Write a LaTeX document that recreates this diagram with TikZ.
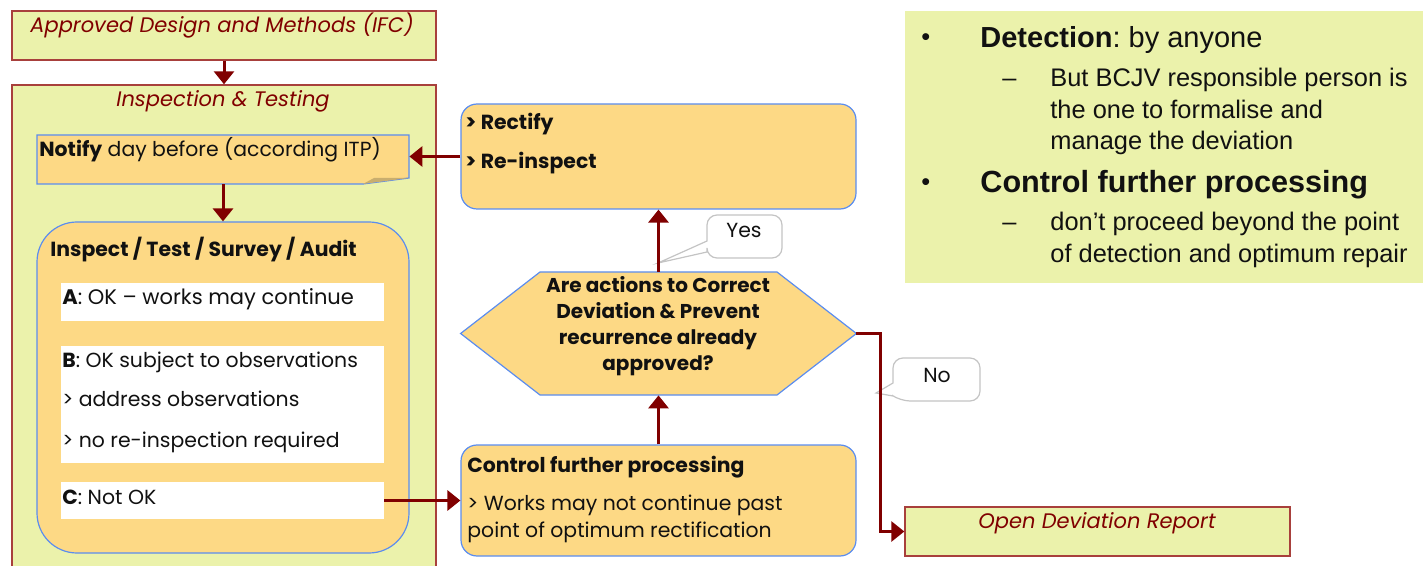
\documentclass[tikz,border=0pt]{standalone}
\usepackage{fontspec}
\setmainfont{Poppins}
\newfontfamily\arialfont{Liberation Sans}
\usetikzlibrary{arrows.meta,fit}
\frenchspacing

\definecolor{paleGreen}{HTML}{EBF2AB}
\definecolor{paleOrange}{HTML}{FDD985}
\definecolor{darkRed}{HTML}{800000}
\definecolor{boxRed}{HTML}{A8403C}
\definecolor{noteBlue}{HTML}{5B8DEF}
\definecolor{foldTan}{HTML}{C9AE6E}
\definecolor{calloutGrey}{HTML}{C4C4C4}
\definecolor{inkBlack}{HTML}{111111}

\tikzset{
  greenbox/.style={draw=boxRed, fill=paleGreen, line width=0.7pt, inner sep=0pt},
  orangebox/.style={draw=noteBlue, fill=paleOrange, line width=0.6pt, inner sep=0pt},
  whitebox/.style={fill=white, inner sep=0pt},
  ghostbox/.style={inner sep=0pt},
  flow/.style={draw=darkRed, line width=1.5pt, -{Triangle[width=10pt,length=6.5pt]}},
  redtitle/.style={text=darkRed, inner sep=0pt, anchor=base, font=\itshape\fontsize{10.5}{12}\selectfont},
  txt/.style={text=inkBlack, inner sep=0pt, anchor=base west, font=\fontsize{10.2}{12}\selectfont},
  boldtxt/.style={txt, font=\bfseries\fontsize{10.2}{12}\selectfont},
  hextxt/.style={text=inkBlack, inner sep=0pt, anchor=base, font=\bfseries\fontsize{10}{12}\selectfont},
  callout/.style={draw=calloutGrey, fill=white, line width=0.6pt},
  panel/.style={text=inkBlack, inner sep=0pt, anchor=base west, font=\arialfont\fontsize{12.7}{14}\selectfont},
  panelhead/.style={panel, font=\arialfont\fontsize{14.5}{16}\selectfont},
}

\begin{document}
\begin{tikzpicture}[x=0.5pt, y=-0.5pt]
\useasboundingbox (0,0) rectangle (1423,566);

%% left column
\node[greenbox, fit={(12,11) (436,60)}] (ifc) {};
\node[redtitle] (ifcText) at (222,33) {Approved Design and Methods (IFC)};

\node[greenbox, fit={(12,85) (436,572)}] (insp) {};
\node[redtitle] (inspText) at (223,107) {Inspection \& Testing};

%% note with folded corner
\node[ghostbox, fit={(37,135) (409,184)}] (notify) {};
\draw[orangebox] (37,135) -- (409,135) -- (409,178) -- (363,184) -- (37,184) -- cycle;
\fill[foldTan] (363,184) -- (374,178) -- (409,178) -- cycle;
\node[txt] (notifyText) at (39,157) {\textbf{Notify} day before (according ITP)};

\node[orangebox, rounded corners=20pt, fit={(37,222) (409,553)}] (audit) {};
\node[boldtxt, font=\bfseries\fontsize{10.2}{13}\selectfont] (auditText) at (50,257) {Inspect / Test / Survey / Audit};

\node[whitebox, fit={(61,283) (384,321)}] (aOK) {};
\node[whitebox, fit={(61,346) (384,463)}] (bOK) {};
\node[whitebox, fit={(61,482) (384,519)}] (cOK) {};
\node[txt, font=\fontsize{10.5}{12}\selectfont] (aText) at (62,305) {\textbf{A}: OK -- works may continue};
\node[txt] (bText) at (62,367) {\textbf{B}: OK subject to observations};
\node[txt] (bLineA) at (62,407) {> address observations};
\node[txt] (bLineB) at (62,447) {> no re-inspection required};
\node[txt] (cText) at (62,504) {\textbf{C}: Not OK};

%% middle column
\node[orangebox, rounded corners=8pt, fit={(461,104) (856,209)}] (rectify) {};
\node[boldtxt] (rectifyA) at (465,130) {> Rectify};
\node[boldtxt] (rectifyB) at (465,169) {> Re-inspect};

\node[ghostbox, fit={(461,272) (856,395)}] (hex) {};
\draw[orangebox] (hex.west) -- (540,272) -- (777,272) -- (hex.east) -- (777,395) -- (540,395) -- cycle;
\node[hextxt] (hexA) at (658,293) {Are actions to Correct};
\node[hextxt] (hexB) at (658,319) {Deviation \& Prevent};
\node[hextxt] (hexC) at (658,345) {recurrence already};
\node[hextxt] (hexD) at (658,371) {approved?};

\node[orangebox, rounded corners=8pt, fit={(461,445) (856,556)}] (control) {};
\node[boldtxt] (controlHead) at (467,472) {Control further processing};
\node[txt] (controlA) at (467,510) {> Works may not continue past};
\node[txt] (controlB) at (467,537) {point of optimum rectification};

%% callouts
\draw[callout] (707,241) [rounded corners=5pt] -- (707,215) -- (782,215) -- (782,258) -- (707,258) [sharp corners] -- (707,252) -- (658,263) -- cycle;
\node[txt, anchor=base] (yes) at (744,238) {Yes};
\draw[callout] (893,383) [rounded corners=5pt] -- (893,358) -- (980,358) -- (980,401) -- (900,401) [sharp corners] -- (893,396) -- (876,393) -- cycle;
\node[txt, anchor=base] (no) at (937,382) {No};

\node[greenbox, fit={(905,507) (1290,556)}] (odr) {};
\node[redtitle] (odrText) at (1097,528) {Open Deviation Report};

%% right panel
\node[ghostbox, fill=paleGreen, fit={(905,11) (1423,283)}] (notes) {};
\node[panel] (dotA) at (921,46) {•};
\node[panelhead] (detect) at (980,48) {\textbf{Detection}: by anyone};
\node[panel] (dashA) at (1002,87) {–};
\node[panel] (subA) at (1050,87) {But BCJV responsible person is};
\node[panel] (subB) at (1050,119) {the one to formalise and};
\node[panel] (subC) at (1050,150) {manage the deviation};
\node[panel] (dotB) at (921,191) {•};
\node[panelhead, font=\arialfont\fontsize{15.3}{16}\selectfont] (further) at (980,193) {\textbf{Control further processing}};
\node[panel] (dashB) at (1002,231) {–};
\node[panel] (subD) at (1050,231) {don’t proceed beyond the point};
\node[panel] (subE) at (1050,263) {of detection and optimum repair};

%% connectors
\draw[flow] (ifc.south) -- (insp.north);
\draw[flow] (notify.south) -- (audit.north);
\draw[flow] (rectify.west) -- (notify.east |- rectify.west);
\draw[flow] (cOK.east) -- (control.west);
\draw[flow] (control.north) -- (hex.south);
\draw[flow] (hex.north) -- (rectify.south);
\draw[flow] (hex.east) -| ([xshift=-12pt]odr.west) -- (odr.west);

\end{tikzpicture}
\end{document}
